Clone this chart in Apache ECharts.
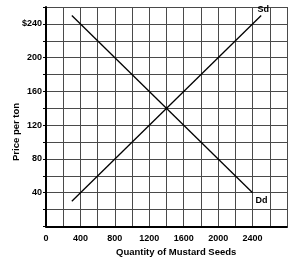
<!DOCTYPE html>
<html><head><meta charset="utf-8">
<script src="https://cdn.jsdelivr.net/npm/echarts@6/dist/echarts.min.js"></script>
<style>html,body{margin:0;padding:0;background:#fff}#c{width:290px;height:262px}</style>
</head><body><div id="c"></div>
<script>
const xTickLabels = [0, 400, 800, 1200, 1600, 2000, 2400];
const yTickLabels = [40, 80, 120, 160, 200, 240];
const supplyQ = [300, 2500];
const supplyP = [30, 250];
const demandQ = [300, 2400];
const demandP = [250, 40];
const supplyName = 'Sd';
const demandName = 'Dd';
const xTitle = 'Quantity of Mustard Seeds';
const yTitle = 'Price per ton';

const FONT = '"Liberation Sans", Arial, sans-serif';
const chart = echarts.init(document.getElementById('c'), null, {renderer: 'canvas'});
const lbl = {fontFamily: FONT, fontWeight: 'bold', fontSize: 9, color: '#000'};
function build(qs, ps, name, pos, off) {
  return qs.map((q, i) => {
    const last = i === qs.length - 1;
    return {value: [q, ps[i]],
      label: Object.assign({show: last, formatter: name, position: pos, offset: off}, lbl)};
  });
}
const supplyData = build(supplyQ, supplyP, supplyName, 'top', [2, 4]);
const demandData = build(demandQ, demandP, demandName, 'bottom', [9, -2]);

const lineSeries = (data) => ({
  type: 'line', data, symbol: 'circle', symbolSize: 0.01, showSymbol: true,
  itemStyle: {color: 'rgba(0,0,0,0)'},
  lineStyle: {color: '#000', width: 1.3}, silent: true
});

chart.setOption({
  animation: false,
  grid: {left: 46, right: 2, top: 7, bottom: 35.5, containLabel: false},
  xAxis: {
    type: 'value', min: 0, max: 2800, interval: 200,
    axisLine: {show: true, onZero: false, lineStyle: {color: '#000', width: 2}},
    axisTick: {show: false},
    splitLine: {show: true, lineStyle: {color: '#4a4a4a', width: 1}},
    axisLabel: Object.assign({margin: 8,
      formatter: v => xTickLabels.includes(v) ? String(v) : ''}, lbl)
  },
  yAxis: {
    type: 'value', min: 0, max: 260, interval: 20,
    axisLine: {show: true, onZero: false, lineStyle: {color: '#000', width: 2}},
    axisTick: {show: true, length: 3, lineStyle: {color: '#000'}},
    splitLine: {show: true, lineStyle: {color: '#4a4a4a', width: 1}},
    axisLabel: Object.assign({margin: 4,
      formatter: v => yTickLabels.includes(v) ? (v === 240 ? '$240' : String(v)) : ''}, lbl)
  },
  series: [lineSeries(supplyData), lineSeries(demandData)],
  graphic: [
    {type: 'text', left: 116, top: 247, style: {text: xTitle, font: 'bold 9.5px ' + FONT, fill: '#000'}},
    {type: 'text', x: 11, y: 161, rotation: Math.PI / 2,
     style: {text: yTitle, font: 'bold 9.5px ' + FONT, fill: '#000'}}
  ]
});
</script></body></html>
